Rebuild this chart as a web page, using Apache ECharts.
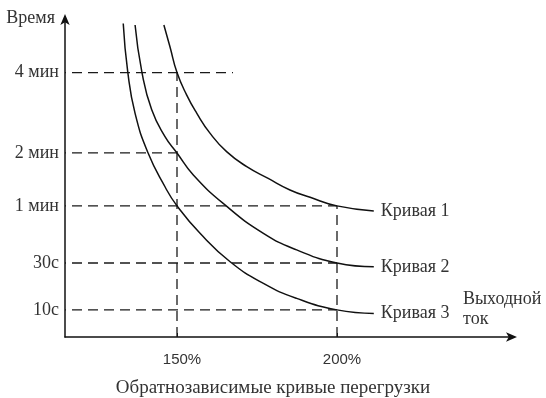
<!DOCTYPE html>
<html>
<head>
<meta charset="utf-8">
<script src="https://cdn.jsdelivr.net/npm/echarts@6/dist/echarts.min.js"></script>
<style>
  html, body { margin: 0; padding: 0; background: #fff; }
  #chart { width: 546px; height: 398px; }
</style>
</head>
<body>
<div id="chart"></div>
<script>
// Time levels on the vertical axis (schematic scale 0..100)
const timeLabels = ['10с', '30с', '1 мин', '2 мин', '4 мин'];
const timeLevels = [8.5, 23.2, 41.1, 57.7, 82.9];

// Output current ticks, %
const currentTicks = [150, 200];
const currentLabels = ['150%', '200%'];

// Inverse-time overload curves: [current %, time level]
const curve1 = [[145.9, 97.8], [147.8, 91.0], [150, 82.9], [153.0, 75.9], [156.2, 70.1], [160.3, 63.9],
                [165.5, 58.1], [171.8, 53.4], [178.5, 49.7], [185.3, 46.1], [191.6, 43.8], [200, 41.1], [211.5, 39.5]];
const curve2 = [[136.9, 97.8], [139.0, 83.2], [142.1, 71.2], [146.25, 62.8], [150, 57.7], [155.1, 50.8],
                [165.0, 41.4], [177.0, 32.5], [187.4, 27.3], [200, 23.2], [211.5, 22.0]];
const curve3 = [[133.2, 98.3], [134.6, 83.2], [136.9, 70.1], [141.0, 57.6], [146.25, 47.1], [150, 41.1],
                [157.2, 32.5], [166.6, 23.6], [177.0, 16.8], [187.4, 12.1], [200, 8.5], [211.5, 7.4]];
const curveNames = ['Кривая 1', 'Кривая 2', 'Кривая 3'];

// Guide lines: horizontal [time level, current where it stops], vertical [current, time level where it stops]
const hGuides = [[82.9, 167.5], [57.7, 150], [41.1, 200], [23.2, 200], [8.5, 200]];
const vGuides = [[150, 82.9], [200, 41.1]];

const X_MIN = 115, X_MAX = 255;
const serif = '"Liberation Serif", "DejaVu Serif", serif';
const sans = '"Liberation Sans", Arial, sans-serif';

const dashStyle = { color: '#1a1a1a', width: 1.3, type: [10, 6] };

const series = [];
hGuides.forEach(([y, xEnd]) => {
  series.push({
    type: 'line', data: [[X_MIN, y], [xEnd, y]], symbol: 'none', silent: true,
    lineStyle: Object.assign({}, dashStyle, { dashOffset: -7 }), z: 1
  });
});
vGuides.forEach(([x, yEnd]) => {
  series.push({
    type: 'line', data: [[x, 0], [x, yEnd]], symbol: 'none', silent: true,
    lineStyle: dashStyle, z: 1
  });
});
[curve1, curve2, curve3].forEach((pts, i) => {
  series.push({
    type: 'line', name: curveNames[i], data: pts, symbol: 'none', smooth: 0.5,
    lineStyle: { color: '#111', width: 1.5 }, z: 3,
    endLabel: {
      show: true, formatter: curveNames[i], distance: 7,
      fontFamily: serif, fontSize: 18, color: '#333'
    }
  });
});

const chart = echarts.init(document.getElementById('chart'), null, { renderer: 'canvas' });
chart.setOption({
  animation: false,
  backgroundColor: '#fff',
  title: {
    text: 'Обратнозависимые кривые перегрузки',
    left: 'center', top: 374,
    textStyle: { fontFamily: serif, fontSize: 19, fontWeight: 'normal', color: '#333' }
  },
  grid: { left: 65, right: 33, top: 18, bottom: 61 },
  xAxis: {
    type: 'value', min: X_MIN, max: X_MAX,
    name: 'Выходной\nток', nameLocation: 'end', nameGap: -50,
    nameTextStyle: {
      fontFamily: serif, fontSize: 18, color: '#333', align: 'left',
      verticalAlign: 'bottom', lineHeight: 20, padding: [0, 0, 8, 0]
    },
    axisLine: { lineStyle: { color: '#111', width: 1.5 }, symbol: ['none', 'arrow'], symbolSize: [7, 11], symbolOffset: [0, 4] },
    axisTick: { show: true, inside: true, length: 4, customValues: currentTicks, lineStyle: { color: '#111' } },
    axisLabel: {
      customValues: currentTicks, margin: 15, padding: [0, 0, 0, 10],
      formatter: v => currentLabels[currentTicks.indexOf(v)] || '',
      fontFamily: sans, fontSize: 15, color: '#333'
    },
    splitLine: { show: false }
  },
  yAxis: {
    type: 'value', min: 0, max: 100,
    name: 'Время', nameLocation: 'end', nameGap: 0,
    nameTextStyle: {
      fontFamily: serif, fontSize: 18, color: '#333', align: 'right',
      verticalAlign: 'middle', padding: [0, 10, 0, 0]
    },
    axisLine: { lineStyle: { color: '#111', width: 1.5 }, symbol: ['none', 'arrow'], symbolSize: [7, 11], symbolOffset: [0, 4] },
    axisTick: { show: false },
    axisLabel: {
      customValues: timeLevels, margin: 6,
      formatter: v => timeLabels[timeLevels.indexOf(v)] || '',
      fontFamily: serif, fontSize: 18, color: '#333'
    },
    splitLine: { show: false }
  },
  series: series
});
</script>
</body>
</html>
